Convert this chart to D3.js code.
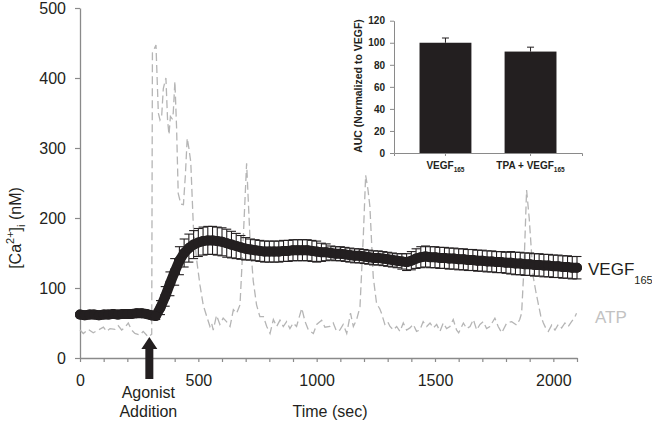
<!DOCTYPE html>
<html>
<head>
<meta charset="utf-8">
<script src="https://cdn.jsdelivr.net/npm/d3@7"></script>
<style>
  body { margin: 0; background: #fff; }
  svg { display: block; font-family: "Liberation Sans", Arial, sans-serif; }
</style>
</head>
<body>
<script>
// VEGF165 mean [Ca2+]i trace (nM), one point every 20 sec
var vegfTime = [0,20,40,60,80,100,120,140,160,180,200,220,240,260,280,300,
  320,340,360,380,400,420,440,460,480,500,520,540,560,580,600,620,640,660,680,700,
  720,740,760,780,800,820,840,860,880,900,920,940,960,980,1000,1020,1040,1060,1080,1100,
  1120,1140,1160,1180,1200,1220,1240,1260,1280,1300,1320,1340,1360,1380,1400,1420,1440,1460,1480,1500,
  1520,1540,1560,1580,1600,1620,1640,1660,1680,1700,1720,1740,1760,1780,1800,1820,1840,1860,1880,1900,
  1920,1940,1960,1980,2000,2020,2040,2060,2080,2100];
var vegfMean = [62,61,62,62,61,62,62,63,62,63,63,63,64,64,63,61,
  60,72,88,106,123,139,150,157,162,165,167,168,168,167,166,164,162,160,158,156,
  155,154,153,152,152,152,152,153,153,154,154,154,154,153,152,151,151,150,149,149,
  148,147,146,146,145,144,143,143,142,141,140,139,138,137,139,142,144,145,144,144,
  143,143,142,142,141,141,140,140,139,139,138,138,137,137,136,136,135,135,134,134,
  133,133,132,132,131,131,130,130,129,129];
var vegfErr = [3,3,3,3,3,3,3,3,3,3,3,3,3,3,3,3,
  5,10,14,17,19,20,20,20,20,20,20,20,20,20,20,20,19,18,17,16,
  15,15,15,15,15,15,15,15,15,15,15,15,15,15,15,13,12,10,10,10,
  10,10,10,10,10,10,10,10,10,10,10,10,11,12,13,14,15,15,15,15,
  15,15,15,15,15,15,15,15,15,15,15,15,15,15,15,16,16,16,16,16,
  16,16,16,16,16,16,16,16,16,16];

// ATP trace (nM)
var atpTime = [0,14,35,56,77,99,113,127,148,162,176,190,204,218,232,253,267,289,303,306,321,
  331,338,345,352,363,370,376,382,389,394,401,408,415,426,437,445,453,460,468,479,493,507,521,535,
  549,556,563,577,591,605,619,634,648,662,676,687,704,718,732,746,760,775,789,803,817,831,845,859,
  873,887,901,915,937,951,965,986,1000,1021,1035,1056,1070,1084,1098,1112,1127,1143,1155,1169,1183,
  1197,1207,1217,1225,1239,1253,1267,1274,1288,1300,1310,1324,1338,1352,1366,1380,1394,1408,1422,
  1436,1450,1465,1479,1493,1507,1521,1535,1549,1563,1577,1591,1600,1620,1634,1648,1662,1676,1690,
  1704,1718,1732,1753,1767,1782,1803,1824,1845,1858,1866,1876,1887,1898,1908,1915,1926,1936,1947,
  1958,1969,1979,1993,2007,2021,2035,2049,2063,2077,2090,2098];
var atpValue = [40,35,41,36,40,44,38,42,41,46,40,44,50,40,35,33,38,30,34,436,447,
  350,340,345,385,400,340,319,345,342,350,395,330,235,220,219,260,314,300,280,188,140,104,75,60,
  45,50,40,61,48,57,52,45,69,64,76,150,278,173,110,76,59,59,45,35,55,45,54,45,
  52,42,50,45,71,52,40,35,48,54,44,45,50,38,40,48,35,64,45,55,73,
  173,261,240,216,116,78,70,64,48,52,45,40,45,38,50,40,43,48,38,
  40,52,45,50,43,48,38,50,42,45,55,40,36,50,42,45,55,40,48,
  52,42,45,57,45,36,50,52,47,55,64,130,240,200,150,116,95,78,60,
  50,42,38,47,40,48,43,50,45,52,58,64];

// axes
var xTicks = [0,100,200,300,400,500,600,700,800,900,1000,1100,1200,1300,1400,1500,1600,1700,1800,1900,2000,2100];
var xLabels = [0,500,1000,1500,2000];
var yTicks = [0,100,200,300,400,500];
var agonistTime = 293;

// inset: area under curve
var insetCats = ["VEGF", "TPA + VEGF"];
var insetSub = ["165", "165"];
var insetAuc = [100, 92];
var insetErr = [4.3, 4];
var insetTicks = [0,20,40,60,80,100,120];

var ink = "#231f20", axisGray = "#8a8a8a", atpGray = "#b5b5b5";

var svg = d3.select("body").append("svg")
  .attr("width", 652)
  .attr("height", 423);

var x = d3.scaleLinear().domain([0, 2100]).range([80, 577]);
var y = d3.scaleLinear().domain([0, 500]).range([358, 8]);

// x axis
var gx = svg.append("g")
  .attr("transform", "translate(0," + y(0) + ")")
  .call(d3.axisBottom(x).tickValues(xTicks).tickSize(4).tickSizeOuter(0).tickPadding(13)
    .tickFormat(function(d) { return xLabels.indexOf(d) >= 0 ? d : ""; }));

// y axis
var gy = svg.append("g")
  .attr("transform", "translate(" + x(0) + ",0)")
  .call(d3.axisLeft(y).tickValues(yTicks).tickSize(5).tickSizeOuter(0).tickPadding(9));

[gx, gy].forEach(function(g) {
  g.select(".domain").attr("stroke", axisGray).attr("stroke-width", 1.3);
  g.selectAll(".tick line").attr("stroke", axisGray).attr("stroke-width", 1.2);
  g.selectAll(".tick text").attr("fill", ink).style("font-size", "16px");
});

// ATP trace, dashed gray
var atpLine = d3.line()
  .x(function(d, i) { return x(atpTime[i]); })
  .y(function(d) { return y(d); });

svg.append("path")
  .datum(atpValue)
  .attr("fill", "none")
  .attr("stroke", atpGray)
  .attr("stroke-width", 1.3)
  .attr("stroke-dasharray", "8,4")
  .attr("d", atpLine);

// VEGF error bars + markers
var vegf = vegfTime.map(function(t, i) { return {t: t, m: vegfMean[i], e: vegfErr[i]}; });

var eb = svg.append("g").attr("stroke", ink).attr("stroke-width", 1.1);
eb.selectAll("line.v").data(vegf).join("line")
  .attr("x1", function(d) { return x(d.t); })
  .attr("x2", function(d) { return x(d.t); })
  .attr("y1", function(d) { return y(d.m - d.e); })
  .attr("y2", function(d) { return y(d.m + d.e); });
eb.selectAll("line.top").data(vegf).join("line")
  .attr("x1", function(d) { return x(d.t) - 4.5; })
  .attr("x2", function(d) { return x(d.t) + 4.5; })
  .attr("y1", function(d) { return y(d.m + d.e); })
  .attr("y2", function(d) { return y(d.m + d.e); });
eb.selectAll("line.bot").data(vegf).join("line")
  .attr("x1", function(d) { return x(d.t) - 4.5; })
  .attr("x2", function(d) { return x(d.t) + 4.5; })
  .attr("y1", function(d) { return y(d.m - d.e); })
  .attr("y2", function(d) { return y(d.m - d.e); });

// dense markers merge into a thick band in the original
svg.append("path")
  .datum(vegf)
  .attr("fill", "none")
  .attr("stroke", ink)
  .attr("stroke-width", 10)
  .attr("stroke-linejoin", "round")
  .attr("stroke-linecap", "round")
  .attr("d", d3.line().x(function(d) { return x(d.t); }).y(function(d) { return y(d.m); }));

svg.append("g").selectAll("circle").data(vegf).join("circle")
  .attr("cx", function(d) { return x(d.t); })
  .attr("cy", function(d) { return y(d.m); })
  .attr("r", 5)
  .attr("fill", ink);

// series labels
var vl = svg.append("text").attr("x", 588).attr("y", 275).attr("fill", ink).style("font-size", "17px");
vl.append("tspan").text("VEGF");
vl.append("tspan").attr("dy", 9).style("font-size", "11px").text("165");

svg.append("text").attr("x", 595).attr("y", 323).attr("fill", "#c2c2c2")
  .style("font-size", "17px").text("ATP");

// axis titles
var yl = svg.append("text")
  .attr("transform", "translate(21,228) rotate(-90)")
  .attr("text-anchor", "middle")
  .attr("fill", ink)
  .style("font-size", "16px");
yl.append("tspan").text("[Ca");
yl.append("tspan").attr("dy", -7).style("font-size", "11px").text("2+");
yl.append("tspan").attr("dy", 7).text("]");
yl.append("tspan").attr("dy", 4).style("font-size", "11px").text("i");
yl.append("tspan").attr("dy", -4).text(" (nM)");

svg.append("text").attr("x", 330).attr("y", 417).attr("text-anchor", "middle")
  .attr("fill", ink).style("font-size", "16px").text("Time (sec)");

// agonist addition arrow
var ax = x(agonistTime), tipY = y(30);
svg.append("path")
  .attr("d", "M" + ax + "," + tipY + " L" + (ax + 8) + "," + (tipY + 12) + " L" + (ax + 4) + "," + (tipY + 12) +
    " L" + (ax + 4) + "," + 379 + " L" + (ax - 4) + "," + 379 + " L" + (ax - 4) + "," + (tipY + 12) +
    " L" + (ax - 8) + "," + (tipY + 12) + "Z")
  .attr("fill", ink);
svg.append("text").attr("x", ax - 1).attr("y", 398).attr("text-anchor", "middle")
  .attr("fill", ink).style("font-size", "16px").text("Agonist");
svg.append("text").attr("x", ax - 1).attr("y", 417).attr("text-anchor", "middle")
  .attr("fill", ink).style("font-size", "16px").text("Addition");

// ---- inset bar chart ----
var xIn = d3.scaleBand().domain(insetCats).range([394, 582]).paddingInner(0.39).paddingOuter(0.3);
var yIn = d3.scaleLinear().domain([0, 120]).range([153, 20.7]);

var inset = svg.append("g");

inset.selectAll("rect").data(insetCats).join("rect")
  .attr("x", function(d) { return xIn(d); })
  .attr("width", xIn.bandwidth())
  .attr("y", function(d, i) { return yIn(insetAuc[i]); })
  .attr("height", function(d, i) { return yIn(0) - yIn(insetAuc[i]); })
  .attr("fill", ink);

var ieb = inset.append("g").attr("stroke", ink).attr("stroke-width", 1);
insetCats.forEach(function(c, i) {
  var cx = xIn(c) + xIn.bandwidth() / 2;
  ieb.append("line").attr("x1", cx).attr("x2", cx)
    .attr("y1", yIn(insetAuc[i])).attr("y2", yIn(insetAuc[i] + insetErr[i]));
  ieb.append("line").attr("x1", cx - 3.5).attr("x2", cx + 3.5)
    .attr("y1", yIn(insetAuc[i] + insetErr[i])).attr("y2", yIn(insetAuc[i] + insetErr[i]));
});

var gyIn = inset.append("g")
  .attr("transform", "translate(394,0)")
  .call(d3.axisLeft(yIn).tickValues(insetTicks).tickSize(4).tickSizeOuter(0).tickPadding(5));
var gxIn = inset.append("g")
  .attr("transform", "translate(0," + yIn(0) + ")")
  .call(d3.axisBottom(xIn).tickSize(3).tickSizeOuter(3).tickFormat(""));

[gyIn, gxIn].forEach(function(g) {
  g.select(".domain").attr("stroke", axisGray).attr("stroke-width", 1);
  g.selectAll(".tick line").attr("stroke", axisGray);
  g.selectAll(".tick text").attr("fill", ink).style("font-size", "10px").style("font-weight", "bold");
});

insetCats.forEach(function(c, i) {
  var t = inset.append("text")
    .attr("x", xIn(c) + xIn.bandwidth() / 2)
    .attr("y", 169)
    .attr("text-anchor", "middle")
    .attr("fill", ink)
    .style("font-size", "10px")
    .style("font-weight", "bold");
  t.append("tspan").text(c);
  t.append("tspan").attr("dy", 3).style("font-size", "6.5px").text(insetSub[i]);
});

inset.append("text")
  .attr("transform", "translate(362,86) rotate(-90)")
  .attr("text-anchor", "middle")
  .attr("fill", ink)
  .style("font-size", "10.5px")
  .style("font-weight", "bold")
  .text("AUC (Normalized to VEGF)");
</script>
</body>
</html>
